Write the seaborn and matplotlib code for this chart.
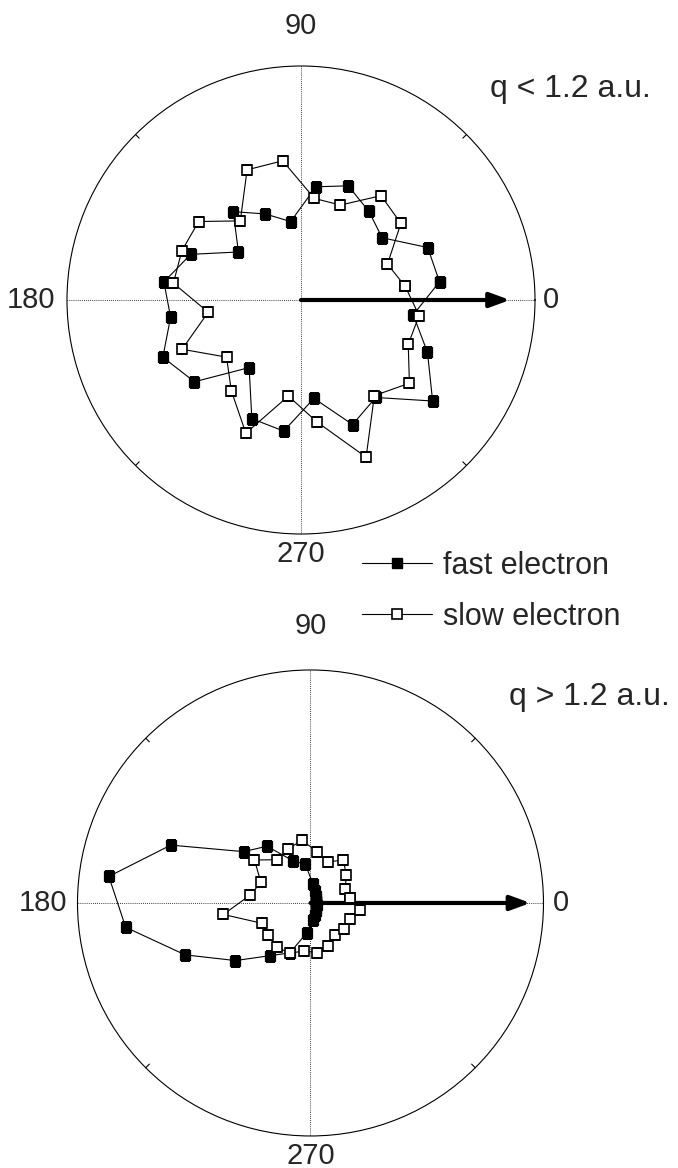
import numpy as np
import pandas as pd
import matplotlib
matplotlib.use("Agg")
import matplotlib.pyplot as plt
import seaborn as sns
from matplotlib.lines import Line2D

# ---------------- data ----------------
ANGLES_DEG = [7.5, 22.5, 37.5, 52.5, 67.5, 82.5, 97.5, 112.5, 127.5, 142.5, 157.5, 172.5,
              187.5, 202.5, 217.5, 232.5, 247.5, 262.5, 277.5, 292.5, 307.5, 322.5, 337.5, 352.5]

# q < 1.2 a.u.  (radius relative to outer circle)
FAST_LOW = [0.597, 0.586, 0.437, 0.477, 0.528, 0.488, 0.338, 0.398, 0.476, 0.337, 0.510, 0.591,
            0.562, 0.639, 0.574, 0.364, 0.549, 0.565, 0.424, 0.576, 0.525, 0.709, 0.585, 0.484]
SLOW_LOW = [0.449, 0.400, 0.538, 0.562, 0.439, 0.438, 0.600, 0.602, 0.426, 0.551, 0.551, 0.550,
            0.400, 0.550, 0.401, 0.489, 0.616, 0.414, 0.526, 0.727, 0.515, 0.584, 0.496, 0.509]

# q > 1.2 a.u.
FAST_HIGH = [0.026, 0.026, 0.030, 0.039, 0.056, 0.082, 0.167, 0.196, 0.307, 0.362, 0.649, 0.873,
             0.800, 0.582, 0.406, 0.285, 0.232, 0.131, 0.073, 0.056, 0.041, 0.032, 0.028, 0.026]
SLOW_HIGH = [0.169, 0.161, 0.194, 0.232, 0.191, 0.221, 0.271, 0.252, 0.234, 0.303, 0.230, 0.261,
             0.377, 0.227, 0.228, 0.239, 0.233, 0.208, 0.215, 0.198, 0.172, 0.182, 0.185, 0.216]

ARROW_LOW = 0.893   # momentum-transfer direction arrow length
ARROW_HIGH = 0.944

SERIES_LABELS = ["fast electron", "slow electron"]
PANEL_LABELS = ["q < 1.2 a.u.", "q > 1.2 a.u."]
THETA_TICKS = [0, 90, 180, 270]
THETA_LABELS = ["0", "90", "180", "270"]
MINOR_TICKS = [45, 135, 225, 315]

# ---------------- style ----------------
sns.set_theme(style="white")
plt.rcParams["font.family"] = ["Liberation Sans", "DejaVu Sans"]
FS = 21
FS_LEG = 22
FS_Q = 23
MS = 7.5

fig = plt.figure(figsize=(6.78, 11.68), dpi=100)
ax1 = fig.add_axes([0.0988, 0.5428, 0.6903, 0.4007], projection="polar")
ax2 = fig.add_axes([0.1143, 0.0274, 0.6873, 0.3990], projection="polar")


def closed_frame(vals):
    th = np.deg2rad(np.array(ANGLES_DEG + [ANGLES_DEG[0] + 360.0]))
    return pd.DataFrame({"theta": th, "r": list(vals) + [vals[0]]})


def draw_panel(ax, fast, slow, arrow_len, label_r):
    ax.annotate("", xy=(0, arrow_len), xytext=(0, 0),
                arrowprops=dict(arrowstyle="-|>,head_length=0.6,head_width=0.22",
                                color="black", lw=3, mutation_scale=20,
                                shrinkA=0, shrinkB=0), zorder=1.5)
    sns.lineplot(data=closed_frame(fast), x="theta", y="r", ax=ax, sort=False,
                 estimator=None, color="black", lw=0.8, marker="s", markersize=MS,
                 markerfacecolor="black", markeredgecolor="black",
                 markeredgewidth=0.9, zorder=2)
    sns.lineplot(data=closed_frame(slow), x="theta", y="r", ax=ax, sort=False,
                 estimator=None, color="black", lw=0.8, marker="s", markersize=MS,
                 markerfacecolor="white", markeredgecolor="black",
                 markeredgewidth=1.2, zorder=2.1)
    ax.set_xlabel("")
    ax.set_ylabel("")
    ax.set_ylim(0, 1)
    ax.set_yticks([])
    ax.set_xticks(np.deg2rad(THETA_TICKS))
    ax.set_xticklabels([])
    ax.tick_params(axis="x", which="major", length=0)
    ax.xaxis.grid(True, which="major", linestyle=(0, (1, 1.5)), color="black", lw=0.6)
    ax.yaxis.grid(False)
    ax.spines["polar"].set_linewidth(0.8)
    ax.spines["polar"].set_color("black")
    ax.set_facecolor("white")
    # small inward tick marks on the rim
    for ang in MINOR_TICKS:
        ax.plot([np.deg2rad(ang)] * 2, [0.978, 1.0], color="black", lw=0.8,
                clip_on=False, zorder=3)
    for ang, txt, rr in zip(THETA_TICKS, THETA_LABELS, label_r):
        ax.text(np.deg2rad(ang), rr, txt, ha="center", va="center", fontsize=FS)
    ax.set_ylim(0, 1)


draw_panel(ax1, FAST_LOW, SLOW_LOW, ARROW_LOW, [1.068, 1.17, 1.152, 1.086])
draw_panel(ax2, FAST_HIGH, SLOW_HIGH, ARROW_HIGH, [1.075, 1.19, 1.150, 1.086])

fig.text(0.841, 0.924, PANEL_LABELS[0], ha="center", va="center", fontsize=FS_Q)
fig.text(0.870, 0.403, PANEL_LABELS[1], ha="center", va="center", fontsize=FS_Q)

handles = [
    Line2D([], [], color="black", lw=0.8, marker="s", ms=MS, mfc="black", mec="black"),
    Line2D([], [], color="black", lw=0.8, marker="s", ms=MS, mfc="white", mec="black", mew=1.2),
]
fig.legend(handles=handles, labels=SERIES_LABELS, loc="upper left",
           bbox_to_anchor=(362 / 678, 1 - 551 / 1168), frameon=False,
           handlelength=2.3, handletextpad=0.35, labelspacing=0.68,
           borderpad=0, borderaxespad=0, fontsize=FS_LEG, numpoints=1)

fig.savefig("out.png", dpi=100, facecolor="white")
